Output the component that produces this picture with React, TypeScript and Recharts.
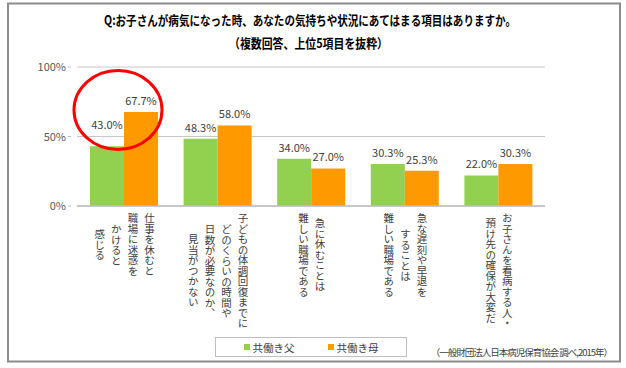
import React from 'react';
import { BarChart, Bar, XAxis, YAxis, CartesianGrid, Legend, LabelList } from 'recharts';

const FONT = '"Noto Sans CJK JP", "Noto Sans", sans-serif';

// Category labels, one entry per column of vertical text
const categoryLines = [
  ['仕事を休むと', '職場に迷惑を', 'かけると', '感じる'],
  ['子どもの体調回復までに', 'どのくらいの時間や', '日数が必要なのか、', '見当がつかない'],
  ['急に休むことは', '難しい職場である'],
  ['急な遅刻や早退を', 'することは', '難しい職場である'],
  ['お子さんを看病する人・', '預け先の確保が大変だ'],
];
const fatherValues = [43.0, 48.3, 34.0, 30.3, 22.0];
const motherValues = [67.7, 58.0, 27.0, 25.3, 30.3];
const yTicks = [0, 50, 100];
const seriesNames = ['共働き父', '共働き母'];
const seriesColors = ['#92d050', '#ff9900'];
const titleLines = [
  'Q:お子さんが病気になった時、あなたの気持ちや状況にあてはまる項目はありますか。',
  '（複数回答、上位5項目を抜粋）',
];
const sourceNote = '（一般財団法人日本病児保育協会 調べ,2015年）';

const data = categoryLines.map((lines, i) => ({
  name: lines.join(''),
  father: fatherValues[i],
  mother: motherValues[i],
}));

const CategoryTick = (props: any) => {
  const { x, y, payload } = props;
  const idx = data.findIndex((d) => d.name === payload.value);
  const lines = categoryLines[idx] || [];
  return (
    <foreignObject x={x - 47} y={y - 1} width={94} height={130}>
      <div style={{ display: 'flex', justifyContent: 'center', alignItems: 'flex-start', width: 94, height: 130 }}>
        <div
          style={{
            writingMode: 'vertical-rl',
            textAlign: 'center',
            fontSize: 10.5,
            lineHeight: '16.6px',
            color: '#404040',
            height: 'max-content',
            whiteSpace: 'nowrap',
            fontFamily: FONT,
          }}
        >
          {lines.map((l, i) => (
            <div key={i}>{l}</div>
          ))}
        </div>
      </div>
    </foreignObject>
  );
};

const PercentTick = (props: any) => {
  const { x, y, payload } = props;
  return (
    <g>
      <text x={x - 3} y={y} dy={4} textAnchor="end" fontSize={11} fill="#595959">
        {payload.value}%
      </text>
      <line x1={x - 1} x2={x + 2} y1={y} y2={y} stroke="#bfbfbf" />
    </g>
  );
};

const makeLabel = (raised: number[]) => (props: any) => {
  const { x, y, width, value, index } = props;
  const extra = raised.includes(index) ? 10 : 0;
  return (
    <text x={x + width / 2} y={y - 7 - extra} textAnchor="middle" fontSize={11} fill="#404040">
      {Number(value).toFixed(1)}%
    </text>
  );
};

const LegendBox = () => (
  <div
    style={{
      width: 192,
      height: 20,
      boxSizing: 'border-box',
      border: '1px solid #bfbfbf',
      display: 'flex',
      alignItems: 'center',
      justifyContent: 'center',
      gap: 33,
      fontSize: 10.5,
      color: '#404040',
      fontFamily: FONT,
    }}
  >
    {seriesNames.map((n, i) => (
      <div key={n} style={{ display: 'flex', alignItems: 'center', gap: 3 }}>
        <span style={{ width: 6, height: 6, background: seriesColors[i], display: 'inline-block' }} />
        <span>{n}</span>
      </div>
    ))}
  </div>
);

export default function App() {
  return (
    <div
      style={{
        position: 'absolute',
        left: 0,
        top: 0,
        width: 626,
        height: 368,
        background: '#fff',
        fontFamily: FONT,
      }}
    >
      <BarChart
        width={626}
        height={368}
        data={data}
        margin={{ top: 67, right: 81, bottom: 32, left: 0 }}
        barGap={0}
      >
        <CartesianGrid vertical={false} stroke="#c8c8c8" />
        <XAxis
          dataKey="name"
          height={130}
          interval={0}
          tickLine={false}
          axisLine={{ stroke: '#bfbfbf', strokeWidth: 1.5 }}
          tick={<CategoryTick />}
        />
        <YAxis
          width={77}
          domain={[0, 100]}
          ticks={yTicks}
          axisLine={false}
          tickLine={false}
          tick={<PercentTick />}
        />
        <Legend
          layout="horizontal"
          verticalAlign="middle"
          align="center"
          content={<LegendBox />}
          wrapperStyle={{ left: 215, top: 337, width: 192, height: 20 }}
        />
        <Bar dataKey="father" name={seriesNames[0]} fill={seriesColors[0]} barSize={34} isAnimationActive={false}>
          <LabelList dataKey="father" content={makeLabel([0])} />
        </Bar>
        <Bar dataKey="mother" name={seriesNames[1]} fill={seriesColors[1]} barSize={34} isAnimationActive={false}>
          <LabelList dataKey="mother" content={makeLabel([])} />
        </Bar>
      </BarChart>
      <svg
        width={626}
        height={368}
        style={{ position: 'absolute', left: 0, top: 0, pointerEvents: 'none' }}
      >
        <rect x={8} y={3.5} width={612} height={358} fill="none" stroke="#8c8c8c" strokeWidth={2} />
        <text x={104} y={25} fontSize={13} fontWeight="bold" fill="#000" textLength={412} lengthAdjust="spacingAndGlyphs">
          {titleLines[0]}
        </text>
        <text x={229} y={48} fontSize={13} fontWeight="bold" fill="#000" textLength={159} lengthAdjust="spacingAndGlyphs">
          {titleLines[1]}
        </text>
        <ellipse cx={118} cy={110} rx={44} ry={39.5} fill="none" stroke="#ff0000" strokeWidth={3} />
      </svg>
      <div
        style={{
          position: 'absolute',
          right: 14,
          top: 345,
          fontSize: 9.5,
          lineHeight: '14px',
          color: '#404040',
          whiteSpace: 'nowrap',
          letterSpacing: -1,
          fontFamily: FONT,
        }}
      >
        {sourceNote}
      </div>
    </div>
  );
}
